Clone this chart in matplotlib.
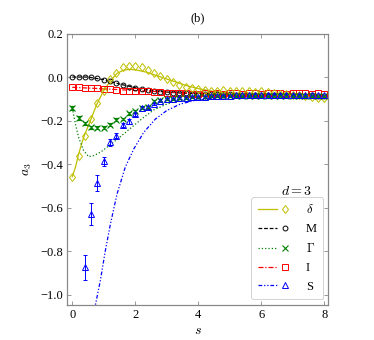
import numpy as np
import matplotlib
matplotlib.use("Agg")
import matplotlib.pyplot as plt
from matplotlib.lines import Line2D
from matplotlib.legend_handler import HandlerBase

plt.rcParams['font.family'] = ['Liberation Serif', 'DejaVu Serif']
plt.rcParams['mathtext.fontset'] = 'cm'
plt.rcParams['font.size'] = 9

# ---- data ----
s_pts = np.round(np.arange(0, 8.01, 0.2), 1)

delta_pts = [-0.456, -0.36, -0.267, -0.19, -0.119, -0.06, -0.007, 0.019, 0.047, 0.054,
             0.054, 0.047, 0.034, 0.019, 0.005, -0.007, -0.022, -0.033, -0.042, -0.05,
             -0.053, -0.057, -0.06, -0.062, -0.058, -0.06, -0.063, -0.06, -0.062, -0.065,
             -0.062, -0.066, -0.07, -0.075, -0.078, -0.08, -0.082, -0.085, -0.09, -0.095,
             -0.092]
M_pts = [0.001, 0.004, 0.004, 0.002, -0.004, -0.011, -0.018, -0.027, -0.036, -0.042,
         -0.048, -0.053, -0.058, -0.063, -0.065, -0.068, -0.07, -0.071, -0.073, -0.075,
         -0.076, -0.077, -0.078, -0.077, -0.079, -0.078, -0.08, -0.079, -0.08, -0.081,
         -0.08, -0.081, -0.08, -0.082, -0.081, -0.082, -0.082, -0.083, -0.082, -0.083,
         -0.083]
gamma_pts = [-0.14, -0.186, -0.211, -0.229, -0.232, -0.232, -0.217, -0.194, -0.191, -0.165,
             -0.156, -0.14, -0.134, -0.107, -0.103, -0.1, -0.097, -0.095, -0.093, -0.09,
             -0.09, -0.088, -0.087, -0.086, -0.087, -0.085, -0.086, -0.085, -0.084, -0.086,
             -0.085, -0.084, -0.085, -0.086, -0.084, -0.085, -0.084, -0.085, -0.086, -0.084,
             -0.085]
gamma_err = [0.008, 0.008, 0.008, 0.007, 0.007, 0.007, 0.007, 0.006, 0.006, 0.006,
             0.006, 0.005, 0.005, 0.005, 0.005, 0.004, 0.004, 0.004, 0.004, 0.004,
             0.004, 0.004, 0.004, 0.004, 0.004, 0.004, 0.004, 0.004, 0.004, 0.004,
             0.004, 0.004, 0.004, 0.004, 0.004, 0.004, 0.004, 0.004, 0.004, 0.004,
             0.004]
I_pts = [-0.042, -0.045, -0.048, -0.05, -0.049, -0.053, -0.053, -0.057, -0.06, -0.06,
         -0.06, -0.064, -0.064, -0.068, -0.068, -0.071, -0.072, -0.072, -0.073, -0.074,
         -0.074, -0.073, -0.075, -0.072, -0.074, -0.073, -0.072, -0.074, -0.073, -0.072,
         -0.074, -0.073, -0.072, -0.073, -0.074, -0.072, -0.073, -0.072, -0.074, -0.073,
         -0.074]
S_x = s_pts[2:]
S_pts = [-0.873, -0.628, -0.485, -0.385, -0.298, -0.267, -0.217, -0.202,
         -0.168, -0.14, -0.137, -0.122, -0.107, -0.099, -0.099, -0.096, -0.094, -0.091,
         -0.09, -0.089, -0.086, -0.085, -0.084, -0.083, -0.082, -0.082, -0.081, -0.082,
         -0.08, -0.081, -0.08, -0.079, -0.08, -0.08, -0.079, -0.08, -0.08, -0.079,
         -0.08]
S_err = [0.057, 0.049, 0.038, 0.02, 0.015, 0.012, 0.01, 0.01,
         0.008, 0.007, 0.007, 0.006, 0.006, 0.005, 0.005, 0.005, 0.005, 0.005,
         0.004, 0.004, 0.004, 0.004, 0.004, 0.004, 0.004, 0.004, 0.004, 0.004,
         0.004, 0.004, 0.004, 0.004, 0.004, 0.004, 0.004, 0.004, 0.004, 0.004,
         0.004]

# fitted curves
delta_cx = [0, 0.1, 0.2, 0.36, 0.57, 0.78, 1.0, 1.21, 1.42, 1.63, 1.84, 2.05, 2.37, 2.69,
            3.0, 3.32, 3.64, 4.06, 4.49, 5.0, 5.5, 6, 7, 8]
delta_cy = [-0.456, -0.413, -0.352, -0.275, -0.2, -0.122, -0.06, -0.015, 0.019, 0.034,
            0.038, 0.034, 0.024, 0.008, -0.007, -0.022, -0.038, -0.053, -0.064, -0.072,
            -0.077, -0.08, -0.082, -0.083]
M_cx = [0, 0.5, 1, 1.5, 2, 2.5, 3, 3.5, 4, 5, 6, 7, 8]
M_cy = [0.002, 0.002, -0.01, -0.03, -0.047, -0.06, -0.067, -0.072, -0.075, -0.079,
        -0.081, -0.082, -0.083]
gamma_cx = [0, 0.1, 0.2, 0.36, 0.52, 0.68, 0.89, 1.1, 1.37, 1.63, 1.95, 2.27, 2.59, 3.0,
            3.54, 4.06, 4.5, 5, 6, 7, 8]
gamma_cy = [-0.14, -0.214, -0.275, -0.336, -0.364, -0.359, -0.344, -0.321, -0.29, -0.26,
            -0.221, -0.183, -0.149, -0.122, -0.099, -0.088, -0.084, -0.083, -0.083,
            -0.084, -0.085]
I_cx = [0, 1, 2, 3, 4, 5, 6, 7, 8]
I_cy = [-0.045, -0.052, -0.06, -0.067, -0.073, -0.078, -0.081, -0.083, -0.085]
S_cx = [0.7, 0.73, 0.89, 1.05, 1.21, 1.42, 1.68, 1.95, 2.27, 2.64, 3.0, 3.43, 3.85, 4.28,
        4.59, 5, 6, 7, 8]
S_cy = [-1.07, -1.049, -0.934, -0.796, -0.674, -0.536, -0.413, -0.329, -0.252, -0.191,
        -0.152, -0.122, -0.107, -0.099, -0.091, -0.088, -0.085, -0.085, -0.085]


class LineThenMarker(HandlerBase):
    # line segment on the left, open marker on the right
    def create_artists(self, legend, orig_handle, xdescent, ydescent, width, height,
                       fontsize, trans):
        line, mark = orig_handle
        y = height / 2 - ydescent
        x0 = -xdescent
        seg = Line2D([x0, x0 + 0.6 * width], [y, y])
        seg.update_from(line)
        seg.set_marker('')
        pt = Line2D([x0 + 0.85 * width], [y])
        pt.update_from(mark)
        pt.set_linestyle('none')
        for a in (seg, pt):
            a.set_transform(trans)
        return [seg, pt]


fig = plt.figure(figsize=(3.74, 3.40), dpi=100)
ax = fig.add_axes([0.179, 0.103, 0.698, 0.797])

lw = 0.9
mk = dict(mfc='none', mew=0.7, linestyle='none')

l_d, = ax.plot(delta_cx, delta_cy, '-', color='y', lw=lw)
l_m, = ax.plot(M_cx, M_cy, '--', color='k', lw=lw, dashes=(3, 1.5))
l_g, = ax.plot(gamma_cx, gamma_cy, ':', color='g', lw=lw)
l_i, = ax.plot(I_cx, I_cy, '-.', color='r', lw=lw, dashes=(4, 1.5, 1, 1.5))
l_s, = ax.plot(S_cx, S_cy, color='b', lw=lw, dashes=(3, 1.5, 1, 1.5, 1, 1.5))

p_m, = ax.plot(s_pts, M_pts, marker='o', ms=3.5, color='k', **mk)
p_i, = ax.plot(s_pts, I_pts, marker='s', ms=4, color='r', **mk)
eb_g = ax.errorbar(s_pts, gamma_pts, yerr=gamma_err, fmt='x', ms=4, color='g',
                   ecolor='g', mew=0.8, elinewidth=0.7, capsize=1.5)
eb_s = ax.errorbar(S_x, S_pts, yerr=S_err, fmt='^', ms=4, color='b', mfc='none',
                   ecolor='b', mew=0.7, elinewidth=0.7, capsize=1.5)
p_d, = ax.plot(s_pts, delta_pts, marker='d', ms=4.5, color='y', **mk)

ax.set_xlim(-0.17, 8.12)
ax.set_ylim(-1.046, 0.2)
ax.set_xticks([0, 2, 4, 6, 8])
ax.set_yticks([-1.0, -0.8, -0.6, -0.4, -0.2, 0.0, 0.2])
ax.set_yticklabels(['\u22121.0', '\u22120.8', '\u22120.6', '\u22120.4', '\u22120.2', '0.0', '0.2'])
ax.tick_params(direction='in', top=True, right=True, length=3, width=0.6,
               color='#888888', labelsize=9, pad=3)
for sp in ax.spines.values():
    sp.set_color('#888888')
    sp.set_linewidth(0.9)

ax.set_xlabel('$s$', fontsize=10, labelpad=2)
ax.set_ylabel('$a_3$', fontsize=10, labelpad=4)
ax.set_title('(b)', fontsize=9, pad=9)

handles = [(l_d, p_d), (l_m, p_m), (l_g, eb_g[0]), (l_i, p_i), (l_s, eb_s[0])]
labels = [r'$\delta$', 'M', r'$\Gamma$', 'I', 'S']
leg = ax.legend(handles, labels, handler_map={tuple: LineThenMarker()},
                loc='lower right', bbox_to_anchor=(0.981, 0.022), borderaxespad=0,
                handlelength=2.56, handletextpad=1.3, borderpad=0.5,
                labelspacing=0.55, fontsize=9, fancybox=True, framealpha=1,
                edgecolor='#cccccc')
leg.get_frame().set_linewidth(0.6)

ax.text(0.88, 0.42, '$d = 3$', transform=ax.transAxes, ha='center', va='center',
        fontsize=10)

fig.savefig('out.png', dpi=100)
